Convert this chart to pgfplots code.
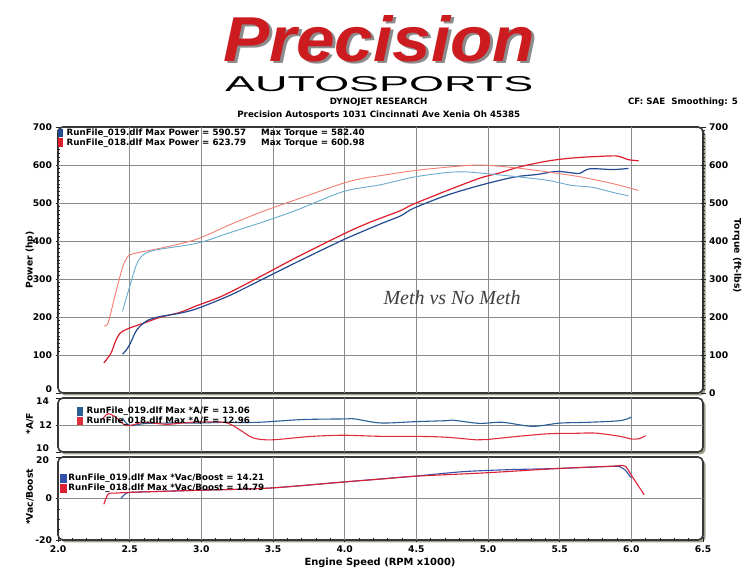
\documentclass[border=0pt]{standalone}
\usepackage{fontspec}
\setmainfont{DejaVu Sans}
\newfontfamily\lib{Liberation Sans}
\newfontfamily\libs{Liberation Serif}
\usepackage{pgfplots}
\pgfplotsset{compat=1.18}
\usepackage{graphicx}

\definecolor{pwrR}{RGB}{222,30,45}
\definecolor{tqR}{RGB}{242,125,115}
\definecolor{pwrB}{RGB}{35,75,145}
\definecolor{tqB}{RGB}{105,172,205}
\definecolor{afB}{RGB}{40,95,150}
\definecolor{afR}{RGB}{222,45,60}
\definecolor{bsB}{RGB}{50,80,170}
\definecolor{bsR}{RGB}{222,30,50}
\definecolor{logoR}{RGB}{205,28,32}
\definecolor{framec}{RGB}{55,55,55}
\definecolor{shadowc}{RGB}{160,160,140}
\definecolor{gridc}{RGB}{140,140,140}

\newcommand\lf{\fontsize{8.7bp}{10bp}\selectfont\bfseries}
\newcommand\tl{\fontsize{9.2bp}{10bp}\selectfont\bfseries}

\pgfplotsset{panel/.style={scale only axis, width=645bp, xmin=2, xmax=6.5,
  anchor=south west, axis line style={draw=none}, tick align=center,
  major tick length=5bp, minor tick length=3bp,
  tick style={black!85, line width=0.6bp},
  ytick pos=left, xtick pos=bottom,
  yticklabel style={font=\tl, inner ysep=0.5bp}, xticklabel style={font=\tl},
  /pgf/number format/assume math mode=true,
  every axis plot/.append style={smooth, tension=0.5}},
  gridl/.style={gridc, line width=0.6bp, sharp plot, forget plot}}

\newcommand\vgrid[2]{\pgfplotsinvokeforeach{2.5,3,3.5,4,4.5,5,5.5,6}{\addplot[gridl] coordinates {(##1,#1) (##1,#2)};}}

\begin{document}
\begin{tikzpicture}[x=1bp,y=1bp]
\useasboundingbox (0,0) rectangle (748,576);

% frames
\newcommand\frameit[4]{%
\fill[shadowc, rounded corners=5bp] (#1+2.5,#2-2.5) rectangle (#3+2.5,#4-2.5);
\draw[fill=white, draw=framec, line width=1.6bp, rounded corners=5bp] (#1,#2) rectangle (#3,#4);}
\frameit{58}{183}{703}{449}
\frameit{58}{124}{703}{178}
\frameit{58}{36}{703}{119}

% main panel: power
\begin{axis}[panel, at={(58bp,183bp)}, height=266bp, ymin=0, ymax=700,
  ytick={100,200,...,700}, minor y tick num=9,
  extra y ticks={0}, extra y tick style={yticklabel style={yshift=4bp}},
  xtick=\empty]
\vgrid{0}{700}
\pgfplotsinvokeforeach{100,200,300,400,500,600}{\addplot[gridl] coordinates {(2,#1) (6.5,#1)};}
\addplot[pwrR, line width=1.2bp] coordinates {
(2.32,79) (2.37,105) (2.40,135) (2.435,158) (2.50,171) (2.60,184) (2.71,199)
(2.85,212) (2.97,230) (3.10,248) (3.20,265) (3.43,310) (3.67,358) (3.99,418)
(4.13,442) (4.25,460) (4.39,480) (4.48,497) (4.71,532) (4.94,565) (5.08,579)
(5.22,595) (5.41,610) (5.55,617) (5.69,621) (5.87,624) (5.92,622) (5.98,614) (6.05,611)};
\addplot[pwrB, line width=1.2bp] coordinates {
(2.45,102) (2.48,115) (2.505,131) (2.55,166) (2.62,190) (2.71,201) (2.85,210)
(2.97,222) (3.20,257) (3.43,300) (3.67,345) (3.99,403) (4.25,445) (4.39,466)
(4.48,486) (4.71,520) (4.94,546) (5.18,568) (5.34,575) (5.48,583) (5.59,579)
(5.64,578) (5.71,590) (5.87,588) (5.98,591)};
\end{axis}

% main panel: torque (right axis)
\begin{axis}[panel, at={(58bp,183bp)}, height=266bp, ymin=0, ymax=700,
  ytick pos=right, ytick={0,100,...,700}, minor y tick num=9, xtick=\empty]
\addplot[tqR, line width=0.9bp] coordinates {
(2.32,177) (2.35,185) (2.40,260) (2.45,330) (2.48,355) (2.52,366) (2.74,383)
(2.97,405) (3.20,443) (3.43,478) (3.67,510) (3.99,552) (4.13,565) (4.25,572)
(4.48,585) (4.71,594) (4.94,600) (5.18,593) (5.41,582) (5.64,569) (5.87,551) (6.05,533)};
\addplot[tqB, line width=0.9bp] coordinates {
(2.45,215) (2.50,280) (2.55,340) (2.60,365) (2.69,377) (2.97,394) (3.20,422)
(3.43,450) (3.67,482) (3.99,530) (4.25,548) (4.48,568) (4.71,580) (4.83,582)
(4.94,579) (5.18,570) (5.41,560) (5.50,553) (5.59,546) (5.73,541) (5.87,528) (5.98,519)};
\end{axis}

% A/F panel
\begin{axis}[panel, at={(58bp,124bp)}, height=54bp, ymin=10, ymax=14,
  ytick={12}, minor y tick num=3,
  extra y ticks={10,14}, extra y tick labels={},
  xtick=\empty]
\vgrid{10}{14}
\addplot[gridl] coordinates {(2,12) (6.5,12)};
\addplot[afB, line width=1.1bp] coordinates {
(2.45,12.5) (2.48,12.1) (2.52,11.95) (2.6,12.1) (2.8,12.15) (3.0,12.15) (3.14,12.19)
(3.4,12.2) (3.7,12.4) (4.0,12.45) (4.07,12.45) (4.25,12.15) (4.5,12.25) (4.71,12.32)
(4.76,12.35) (4.94,12.12) (5.1,12.2) (5.31,11.9) (5.5,12.14) (5.7,12.2) (5.92,12.32) (6.0,12.58)};
\addplot[afR, line width=1.1bp] coordinates {
(2.31,12.45) (2.35,12.84) (2.40,12.6) (2.48,11.95) (2.6,12.2) (2.76,12.05) (2.93,12.2)
(3.16,12.2) (3.26,11.7) (3.36,11.05) (3.49,10.9) (3.76,11.15) (3.99,11.24) (4.25,11.16)
(4.49,11.16) (4.7,11.1) (4.92,10.9) (4.99,10.92) (5.2,11.15) (5.42,11.35) (5.6,11.38)
(5.75,11.4) (5.92,11.16) (6.0,10.96) (6.05,10.98) (6.1,11.2)};
\end{axis}
\node[font=\tl, anchor=east] at (52.5,175) {14};
\node[font=\tl, anchor=east] at (52.5,127.5) {10};

% boost panel
\begin{axis}[panel, at={(58bp,36bp)}, height=83bp, ymin=-20, ymax=20,
  ytick={-20,0}, minor y tick num=3,
  extra y ticks={20}, extra y tick labels={},
  xtick={2,2.5,3,3.5,4,4.5,5,5.5,6,6.5},
  xticklabels={2.0,2.5,3.0,3.5,4.0,4.5,5.0,5.5,6.0,6.5}, minor x tick num=4]
\vgrid{-20}{20}
\addplot[gridl] coordinates {(2,0) (6.5,0)};
\addplot[bsB, line width=1.1bp] coordinates {
(2.44,0.1) (2.48,2.6) (2.56,3.1) (3.0,4.0) (3.47,5.0) (4.0,8.0) (4.28,9.6) (4.48,10.7)
(4.8,12.8) (4.99,13.5) (5.2,14) (5.5,14.5) (5.87,15.5) (5.92,15.3) (5.96,13.5) (5.99,10.7) (6.0,10.1)};
\addplot[bsR, line width=1.1bp] coordinates {
(2.32,-2.8) (2.35,2.1) (2.40,2.6) (2.56,3.1) (3.0,4.0) (3.47,5.0) (4.0,8.0) (4.28,9.5)
(4.48,10.7) (4.99,12.4) (5.5,14.5) (5.87,15.6) (5.92,15.9) (5.96,15.5) (5.99,12.3) (6.04,7) (6.09,1.8)};
\end{axis}
\node[font=\tl, anchor=east] at (52.5,115.5) {20};

% axis titles
\node[rotate=90, font=\tl] at (30,316) {Power (hp)};
\node[rotate=-90, font=\tl] at (737,320) {Torque (ft-lbs)};
\node[rotate=90, font=\tl] at (30,152) {*A/F};
\node[rotate=90, font=\tl] at (30,79) {*Vac/Boost};
\node[font=\fontsize{9.9bp}{11bp}\selectfont\bfseries] at (380,13) {Engine Speed (RPM x1000)};

% legends
\fill[pwrB] (57.5,438.5) rectangle (63,447);
\fill[pwrR] (57.5,429) rectangle (63,437.5);
\node[anchor=west, inner sep=0, font=\lf] at (66.5,442.7) {RunFile\_019.dlf Max Power = 590.57};
\node[anchor=west, inner sep=0, font=\lf] at (66.5,433) {RunFile\_018.dlf Max Power = 623.79};
\node[anchor=west, inner sep=0, font=\lf] at (261,442.7) {Max Torque = 582.40};
\node[anchor=west, inner sep=0, font=\lf] at (261,433) {Max Torque = 600.98};

\fill[afB] (77,160) rectangle (83,168.5);
\fill[afR] (77,150.5) rectangle (83,159);
\node[anchor=west, inner sep=0, font=\lf] at (86.5,164.3) {RunFile\_019.dlf Max *A/F = 13.06};
\node[anchor=west, inner sep=0, font=\lf] at (86.5,155) {RunFile\_018.dlf Max *A/F = 12.96};

\fill[bsB] (60,93) rectangle (66.5,101.5);
\fill[bsR] (60,83) rectangle (66.5,91.5);
\node[anchor=west, inner sep=0, font=\lf] at (68.3,97.3) {RunFile\_019.dlf Max *Vac/Boost = 14.21};
\node[anchor=west, inner sep=0, font=\lf] at (68.3,87.3) {RunFile\_018.dlf Max *Vac/Boost = 14.79};

% handwriting
\node[black!75] at (452,278) {\resizebox{137bp}{!}{\itshape\libs Meth vs No Meth}};

% header
\node[font=\lf] at (378.7,474.3) {DYNOJET RESEARCH};
\node[font=\lf] at (378.8,461) {Precision Autosports 1031 Cincinnati Ave Xenia Oh 45385};
\node[font=\lf] at (683,474.3) {CF: SAE\ \ Smoothing: 5};

% logo
\node[anchor=south west, inner sep=0, black!45] at (226,512) {\resizebox{312bp}{46bp}{\lib\bfseries\itshape Precision}};
\node[anchor=south west, inner sep=0, logoR] at (223,514) {\resizebox{312bp}{46bp}{\lib\bfseries\itshape Precision}};
\node[anchor=south west, inner sep=0] at (225,484) {\resizebox{308bp}{15bp}{\lib AUTOSPORTS}};
\end{tikzpicture}
\end{document}
